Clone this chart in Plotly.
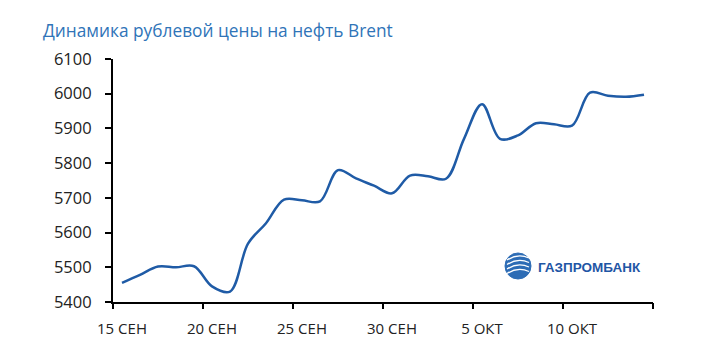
import plotly.graph_objects as go
from datetime import date

# ---- data ----
dates = ["2021-09-15", "2021-09-16", "2021-09-17", "2021-09-18", "2021-09-19",
         "2021-09-20", "2021-09-21", "2021-09-22", "2021-09-23", "2021-09-24",
         "2021-09-25", "2021-09-26", "2021-09-27", "2021-09-28", "2021-09-29",
         "2021-09-30", "2021-10-01", "2021-10-02", "2021-10-03", "2021-10-04",
         "2021-10-05", "2021-10-06", "2021-10-07", "2021-10-08", "2021-10-09",
         "2021-10-10", "2021-10-11", "2021-10-12", "2021-10-13", "2021-10-14"]
values = [5455, 5478, 5502, 5500, 5503,
          5445, 5430, 5568, 5627, 5695,
          5693, 5690, 5780, 5756, 5735,
          5713, 5764, 5762, 5755, 5870,
          5970, 5870, 5880, 5915, 5912,
          5908, 6003, 5994, 5991, 5997]
label_days = ["2021-09-15", "2021-09-20", "2021-09-25", "2021-09-30", "2021-10-05", "2021-10-10"]
label_text = ["15 СЕН", "20 СЕН", "25 СЕН", "30 СЕН", "5 ОКТ", "10 ОКТ"]
title_text = "Динамика рублевой цены на нефть Brent"
logo_text = "ГАЗПРОМБАНК"

start = date.fromisoformat(dates[0])
def idx(s):
    return (date.fromisoformat(s) - start).days

x = [idx(d) for d in dates]
label_x = [idx(d) for d in label_days]
n_days = len(dates)
tick_bounds = [i - 0.5 for i in range(0, n_days + 1, 5)]
xr = [-0.5, n_days - 0.5]

FONT = "Open Sans"
LINE = "#1F5BA6"

fig = go.Figure()
fig.add_trace(go.Scatter(x=x, y=values, mode="lines",
                         line=dict(color=LINE, width=2.5, shape="spline", smoothing=1.0),
                         hoverinfo="skip", showlegend=False))
# invisible trace to hold the tick-mark axis
fig.add_trace(go.Scatter(x=xr, y=[5400, 5400], mode="none", xaxis="x2",
                         hoverinfo="skip", showlegend=False))

fig.update_layout(
    width=717, height=353,
    margin=dict(l=113, r=64, t=59, b=51),
    paper_bgcolor="white", plot_bgcolor="white",
    font=dict(family=FONT, size=15, color="#222222"),
    title=dict(text=title_text, xref="container", yref="container",
               x=43 / 717, xanchor="left", y=1 - 31 / 353, yanchor="middle",
               font=dict(family=FONT, size=17.3, color="#2F74B8")),
    xaxis=dict(range=xr, tickvals=label_x, ticktext=label_text, ticks="",
               showline=True, linecolor="black", linewidth=2, showgrid=False,
               zeroline=False, ticklabelstandoff=12, fixedrange=True,
               tickfont=dict(size=15)),
    xaxis2=dict(range=xr, overlaying="x", anchor="y", side="bottom",
                tickvals=tick_bounds, ticks="outside", ticklen=6, tickwidth=2,
                tickcolor="black", showticklabels=False, showline=False,
                showgrid=False, zeroline=False),
    yaxis=dict(range=[5400, 6100], dtick=100, ticks="outside", ticklen=6,
               tickwidth=2, tickcolor="black", showline=True, linecolor="black",
               linewidth=2, showgrid=False, zeroline=False, ticklabelstandoff=10,
               tickfont=dict(size=16.5)),
)

# logo: globe + wordmark (decoration)
def px2paper(px, py):
    return (px - 113) / 540, (302 - py) / 243

cx0, cy0 = px2paper(505, 279)
cx1, cy1 = px2paper(531, 253)
fig.add_shape(type="circle", xref="paper", yref="paper", x0=cx0, y0=cy0, x1=cx1, y1=cy1,
              fillcolor="#2D6CB5", line=dict(color="#2D6CB5", width=1), layer="above")
for off in (-6, -1.5, 3, 7.5):
    a = px2paper(507, 266 + off)
    b = px2paper(518, 259 + off)
    c = px2paper(529, 268 + off - 4)
    fig.add_shape(type="path", xref="paper", yref="paper",
                  path=f"M {a[0]} {a[1]} Q {b[0]} {b[1]} {c[0]} {c[1]}",
                  line=dict(color="white", width=1.3), layer="above")
lx, ly = px2paper(536, 267)
fig.add_annotation(text="<b>" + logo_text + "</b>", xref="paper", yref="paper",
                   x=lx, y=ly, xanchor="left", yanchor="middle", showarrow=False,
                   font=dict(family="Liberation Sans Narrow, Liberation Sans", size=13.5, color="#1F56A5"))

fig.write_html("out.html")
